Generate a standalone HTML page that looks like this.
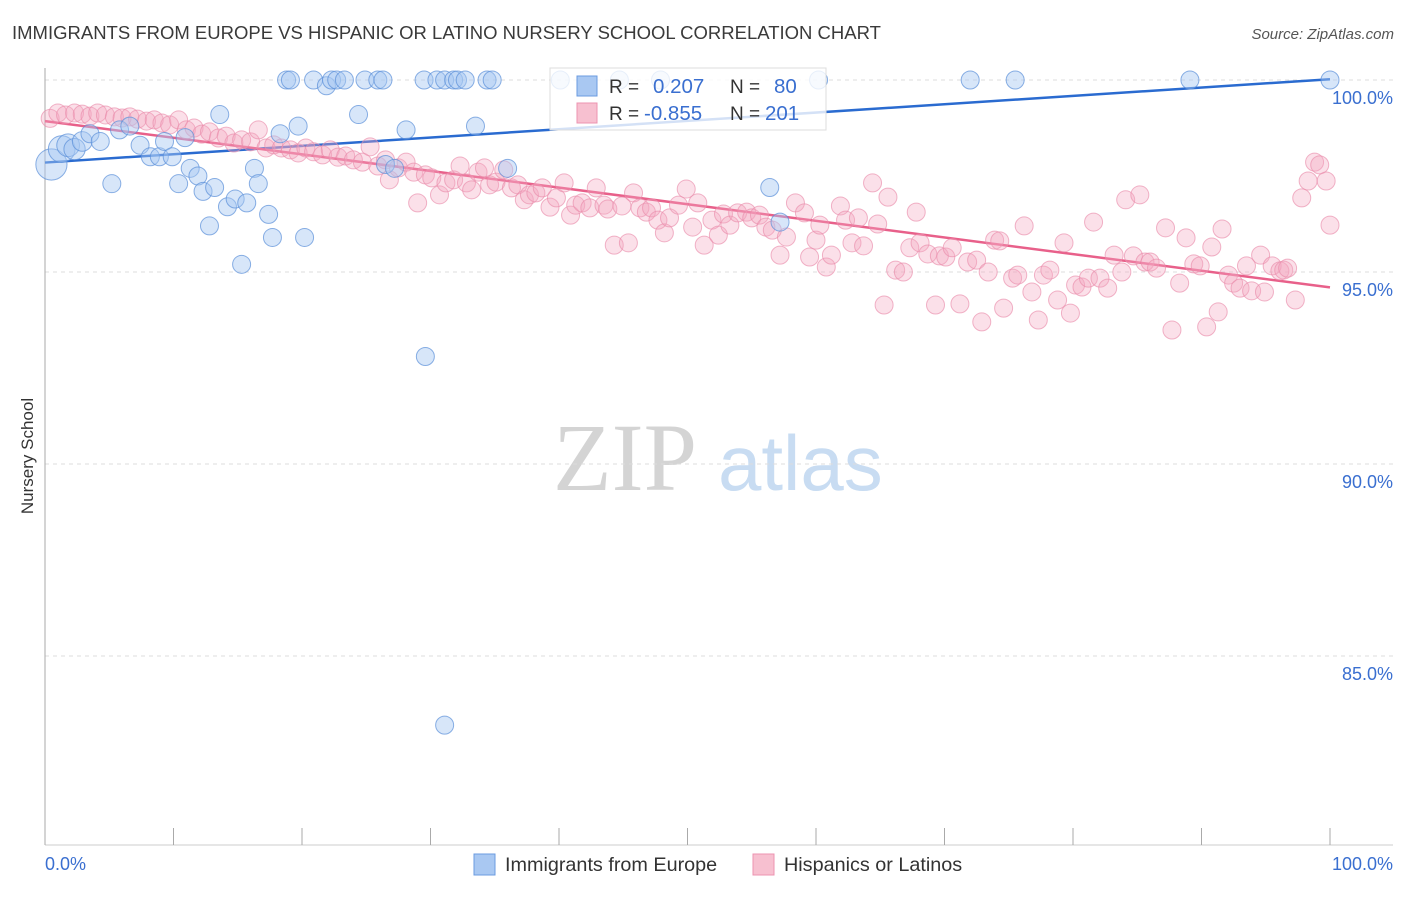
<!DOCTYPE html>
<html><head><meta charset="utf-8">
<style>
body{margin:0;background:#fff;font-family:"Liberation Sans",sans-serif;}
svg text{font-family:"Liberation Sans",sans-serif;}
</style></head>
<body>
<svg id="chart" width="1406" height="892" xmlns="http://www.w3.org/2000/svg">
<text x="12" y="39" font-size="18.5" fill="#3a3a3a">IMMIGRANTS FROM EUROPE VS HISPANIC OR LATINO NURSERY SCHOOL CORRELATION CHART</text>
<text x="1394" y="39" font-size="15" fill="#555" font-style="italic" text-anchor="end">Source: ZipAtlas.com</text>
<text x="33" y="456" font-size="17" fill="#333" text-anchor="middle" transform="rotate(-90 33 456)">Nursery School</text>
<g>
<text x="553" y="490" font-size="96" fill="#d4d4d4" font-family="Liberation Serif" style="font-family:'Liberation Serif',serif">ZIP</text>
<text x="718" y="490" font-size="78" fill="#c8dcf2">atlas</text>
</g>
<g id="grid"></g>
<g id="axes"></g>
<g id="lines"></g>
<g id="pts"></g>
<g>
<rect x="550" y="68" width="276" height="62" fill="#fff" fill-opacity="0.8" stroke="#ddd"/>
<rect x="577" y="76" width="20" height="20" fill="#a9c8f2" stroke="#6b9be0"/>
<rect x="577" y="103" width="20" height="20" fill="#f7c0d0" stroke="#ec93b0"/>
<text x="609" y="93" font-size="19" fill="#333">R =</text>
<text x="653" y="93" font-size="20.5" fill="#3a6fd0">0.207</text>
<text x="730" y="93" font-size="19" fill="#333">N =</text>
<text x="774" y="93" font-size="20.5" fill="#3a6fd0">80</text>
<text x="609" y="120" font-size="19" fill="#333">R =</text>
<text x="644" y="120" font-size="20.5" fill="#3a6fd0">-0.855</text>
<text x="730" y="120" font-size="19" fill="#333">N =</text>
<text x="765" y="120" font-size="20.5" fill="#3a6fd0">201</text>
</g>
<g>
<rect x="474" y="854" width="21" height="21" fill="#a9c8f2" stroke="#6b9be0"/>
<text x="505" y="871" font-size="19.8" fill="#333">Immigrants from Europe</text>
<rect x="753" y="854" width="21" height="21" fill="#f7c0d0" stroke="#ec93b0"/>
<text x="784" y="871" font-size="19.8" fill="#333">Hispanics or Latinos</text>
</g>
</svg>
<script>
const yTicks=[100,95,90,85];
const yTickLabels=["100.0%","95.0%","90.0%","85.0%"];
const xTicks=[0,10,20,30,40,50,60,70,80,90,100];
const blueX=[0.5,1.3,1.8,2.3,2.9,3.5,4.3,5.2,5.8,6.6,7.4,8.2,8.9,9.3,9.9,10.4,10.9,11.3,11.9,12.3,12.8,13.2,13.6,14.2,14.8,15.3,15.7,16.3,16.6,17.4,17.7,18.3,19.7,20.2,18.8,19.1,20.9,21.9,22.3,22.7,23.3,24.4,24.9,25.9,26.3,28.1,29.5,29.6,30.5,31.1,31.8,32.1,32.7,33.5,34.4,34.8,31.1,26.5,27.2,36.0,40.1,44.7,47.9,56.4,57.2,60.2,72.0,75.5,89.1,100];
const blueY=[97.8,98.2,98.3,98.2,98.4,98.6,98.4,97.3,98.7,98.8,98.3,98.0,98.0,98.4,98.0,97.3,98.5,97.7,97.5,97.1,96.2,97.2,99.1,96.7,96.9,95.2,96.8,97.7,97.3,96.5,95.9,98.6,98.8,95.9,100,100,100,99.85,100,100,100,99.1,100,100,100,98.7,100,92.8,100,100,100,100,100,98.8,100,100,83.2,97.8,97.7,97.7,100,100,100,97.2,96.3,100,100,100,100,100];
const blueW=[3,2.2,1.6,1.4,1.2,1,1,1,1,1,1,1,1,1,1,1,1,1,1,1,1,1,1,1,1,1,1,1,1,1,1,1,1,1,1,1,1,1,1,1,1,1,1,1,1,1,1,1,1,1,1,1,1,1,1,1,1,1,1,1,1,1,1,1,1,1,1,1,1,1];
const pinkX=[0.4,1.0,1.6,2.3,2.9,3.5,4.1,4.7,5.4,6.0,6.6,7.2,7.9,8.5,9.1,9.7,10.4,11.0,11.6,12.2,12.8,13.5,14.1,14.7,15.3,16.0,16.6,17.2,17.8,18.4,19.1,19.7,20.3,20.9,21.6,22.2,22.8,23.4,24.0,24.7,25.3,25.9,26.5,26.8,27.5,28.1,28.7,29.0,29.6,30.1,30.7,31.2,31.8,32.3,32.8,33.2,33.7,34.2,34.6,35.1,35.7,36.3,36.8,37.3,37.7,38.2,38.7,39.3,39.8,40.4,40.9,41.3,41.8,42.4,42.9,43.5,43.8,44.3,44.9,45.4,45.8,46.3,46.8,47.2,47.7,48.2,48.6,49.3,49.9,50.4,50.8,51.3,51.9,52.4,52.8,53.3,53.9,54.6,55.0,55.6,56.1,56.6,57.2,57.7,58.4,59.1,59.5,60.0,60.3,60.8,61.2,61.9,62.3,62.8,63.3,63.7,64.4,64.8,65.3,65.6,66.2,66.8,67.3,67.8,68.1,68.7,69.3,69.6,70.1,70.6,71.2,71.8,72.5,72.9,73.4,73.9,74.3,74.6,75.3,75.7,76.2,76.8,77.3,77.7,78.2,78.8,79.3,79.8,80.2,80.7,81.2,81.6,82.1,82.7,83.2,83.8,84.1,84.7,85.2,85.6,86.0,86.5,87.2,87.7,88.3,88.8,89.4,89.9,90.4,90.8,91.3,91.6,92.1,92.5,93.0,93.5,93.9,94.6,94.9,95.5,96.1,96.4,96.7,97.3,97.8,98.3,98.8,99.2,99.7,100];
const pinkY=[99.0,99.14,99.09,99.14,99.11,99.06,99.14,99.09,99.04,99.01,99.04,98.98,98.93,98.96,98.88,98.83,98.96,98.70,98.75,98.59,98.65,98.49,98.54,98.36,98.44,98.39,98.70,98.23,98.31,98.23,98.18,98.10,98.23,98.13,98.05,98.18,97.99,98.02,97.92,97.86,98.26,97.76,97.92,97.40,97.71,97.86,97.60,96.80,97.53,97.45,97.01,97.32,97.40,97.76,97.32,97.14,97.60,97.71,97.27,97.34,97.66,97.19,97.27,96.88,97.01,97.06,97.19,96.69,96.93,97.32,96.48,96.74,96.80,96.67,97.19,96.74,96.64,95.70,96.72,95.76,97.06,96.67,96.56,96.67,96.35,96.02,96.41,96.74,97.16,96.17,96.80,95.70,96.35,95.96,96.51,96.22,96.54,96.56,96.41,96.48,96.17,96.09,95.44,95.91,96.80,96.54,95.39,95.83,96.22,95.13,95.44,96.72,96.35,95.76,96.41,95.68,97.32,96.25,94.14,96.95,95.05,95.00,95.63,96.56,95.76,95.47,94.14,95.42,95.39,95.63,94.17,95.26,95.31,93.70,95.00,95.83,95.81,94.06,94.84,94.92,96.20,94.48,93.75,94.92,95.05,94.27,95.76,93.93,94.66,94.61,94.84,96.30,94.84,94.58,95.44,95.00,96.88,95.42,97.01,95.26,95.26,95.10,96.15,93.49,94.71,95.89,95.21,95.16,93.57,95.65,93.96,96.12,94.92,94.71,94.58,95.16,94.51,95.44,94.48,95.16,95.03,95.05,95.10,94.27,96.93,97.37,97.86,97.79,97.37,96.22];
const blueTrend=[97.85,100.02];
const pinkTrend=[98.93,94.6];

const NS="http://www.w3.org/2000/svg";
const X0=45,X1=1330,YTOP=80,PXPER=38.4;
function sx(v){return X0+(X1-X0)*v/100;}
function sy(v){return YTOP+(100-v)*PXPER;}
function mk(tag,attrs,parent){const e=document.createElementNS(NS,tag);for(const k in attrs)e.setAttribute(k,attrs[k]);parent.appendChild(e);return e;}
const grid=document.getElementById('grid'),axes=document.getElementById('axes'),lines=document.getElementById('lines'),pts=document.getElementById('pts');
yTicks.forEach((t,i)=>{
  const l=mk('line',{x1:X0,x2:1393,y1:sy(t),y2:sy(t),stroke:'#ddd','stroke-dasharray':'4,4'},grid);
  
  
  const tx=mk('text',{x:1393,y:sy(t)+24,'font-size':18,fill:'#3a6fd0','text-anchor':'end'},axes);
  tx.textContent=yTickLabels[i];
  
  
});
const ax=mk('line',{x1:X0,x2:X0,y1:68,y2:845,stroke:'#aaa'},axes);


const bx=mk('line',{x1:X0,x2:1393,y1:845,y2:845,stroke:'#ccc'},axes);


xTicks.forEach(t=>{
  const tk=mk('line',{x1:sx(t),x2:sx(t),y1:828,y2:845,stroke:'#aaa'},axes);
  
  
});
const xl0=mk('text',{x:45,y:870,'font-size':18,fill:'#3a6fd0'},axes);xl0.textContent='0.0%';


const xl1=mk('text',{x:1393,y:870,'font-size':18,fill:'#3a6fd0','text-anchor':'end'},axes);xl1.textContent='100.0%';


pinkX.forEach((x,i)=>{
  const c=mk('circle',{cx:sx(x),cy:sy(pinkY[i]),r:9,fill:'#f4a7bf','fill-opacity':0.35,stroke:'#ea8cab','stroke-opacity':0.65,'stroke-width':1},pts);
  
  
});
blueX.forEach((x,i)=>{
  const c=mk('circle',{cx:sx(x),cy:sy(blueY[i]),r:9*Math.sqrt(blueW[i]),fill:'#a6c8f2','fill-opacity':0.45,stroke:'#5a8ed8','stroke-opacity':0.7,'stroke-width':1},pts);
  
  
});
const bl=mk('line',{x1:sx(0),y1:sy(blueTrend[0]),x2:sx(100),y2:sy(blueTrend[1]),stroke:'#2a6bd0','stroke-width':2.5},lines);


const pl=mk('line',{x1:sx(0),y1:sy(pinkTrend[0]),x2:sx(100),y2:sy(pinkTrend[1]),stroke:'#e8608a','stroke-width':2.5},lines);


</script>
</body></html>
